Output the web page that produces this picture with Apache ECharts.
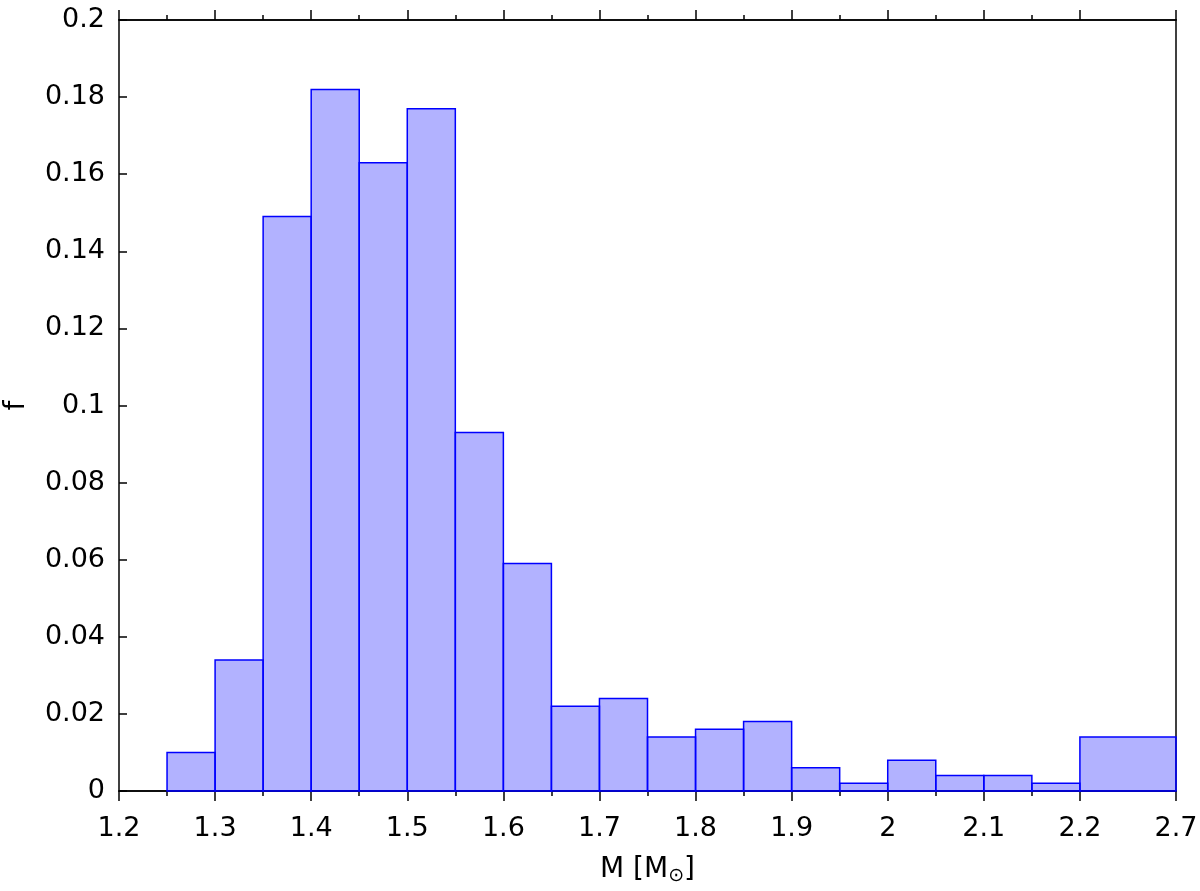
<!DOCTYPE html>
<html>
<head>
<meta charset="utf-8">
<script src="https://cdn.jsdelivr.net/npm/echarts@6/dist/echarts.min.js"></script>
<style>html,body{margin:0;padding:0;background:#fff}#c{width:1200px;height:891px}</style>
</head>
<body>
<div id="c"></div>
<script>
// Histogram bins (M in solar masses) and fractions f
const binLo = [1.25,1.30,1.35,1.40,1.45,1.50,1.55,1.60,1.65,1.70,1.75,1.80,1.85,1.90,1.95,2.00,2.05,2.10,2.15,2.20];
const binHi = [1.30,1.35,1.40,1.45,1.50,1.55,1.60,1.65,1.70,1.75,1.80,1.85,1.90,1.95,2.00,2.05,2.10,2.15,2.20,2.70];
const freq  = [0.010,0.034,0.149,0.182,0.163,0.177,0.093,0.059,0.022,0.024,0.014,0.016,0.018,0.006,0.002,0.008,0.004,0.004,0.002,0.014];
const xMajorTicks = [1.2,1.3,1.4,1.5,1.6,1.7,1.8,1.9,2.0,2.1,2.2,2.7];
const xMinorTicks = [1.25,1.35,1.45,1.55,1.65,1.75,1.85,1.95,2.05,2.15];

// broken axis: range 2.2..2.7 compressed into one 0.1 interval
const BREAK = 2.2, SQUEEZE = 5;
function toAxis(x){ return x <= BREAK + 1e-9 ? x : BREAK + (x - BREAK) / SQUEEZE; }
function fromAxis(a){ return a <= BREAK + 1e-9 ? a : BREAK + (a - BREAK) * SQUEEZE; }
function fmt(v){ const r = Math.round(fromAxis(v)*10)/10; return String(r); }

const FONT = 'DejaVu Sans';
const FS = 27;
const majorAxis = xMajorTicks.map(toAxis);
const minorAxis = xMinorTicks.map(toAxis);
const axMin = toAxis(1.2), axMax = toAxis(2.7);

const chart = echarts.init(document.getElementById('c'), null, {renderer:'canvas'});
const lineStyle = {color:'#000', width:1.5};
function xAx(pos, ticks, len, labels, name){
  return {
    type:'value', position:pos, min:axMin, max:axMax, gridIndex:0,
    axisLine:{show:true, onZero:false, lineStyle},
    axisTick:{show:true, inside:false, length:len, customValues:ticks, lineStyle},
    axisLabel:{show:labels, customValues:ticks, formatter:fmt, color:'#000', fontFamily:FONT, fontSize:FS, margin:24},
    splitLine:{show:false},
    name: name || '', nameLocation:'middle', nameGap:62, nameMoveOverlap:false,
    nameTextStyle:{color:'#000', fontFamily:FONT, fontSize:28, rich:{sub:{fontFamily:FONT, fontSize:19, verticalAlign:'bottom', padding:[14,0,0,0], color:'#000'}}}
  };
}
const option = {
  animation:false,
  backgroundColor:'#fff',
  grid:{left:119, right:24, top:20, bottom:100, containLabel:false, outerBoundsMode:'none'},
  xAxis:[
    xAx('bottom', majorAxis, 10, true, 'M [M{sub|\u2299}]'),
    xAx('bottom', minorAxis, 5, false),
    xAx('top', majorAxis, 10, false),
    xAx('top', minorAxis, 5, false)
  ],
  yAxis:[
    {type:'value', min:0, max:0.2, interval:0.02, position:'left',
     axisLine:{show:true, lineStyle},
     axisTick:{show:true, inside:true, length:8, lineStyle},
     axisLabel:{color:'#000', fontFamily:FONT, fontSize:FS, margin:14},
     splitLine:{show:false},
     name:'f', nameLocation:'middle', nameGap:88, nameRotate:90, nameMoveOverlap:false,
     nameTextStyle:{color:'#000', fontFamily:FONT, fontSize:28}},
    {type:'value', min:0, max:0.2, interval:0.02, position:'right',
     axisLine:{show:true, lineStyle}, axisTick:{show:false}, axisLabel:{show:false}, splitLine:{show:false}}
  ],
  series:[{
    type:'custom',
    xAxisIndex:0, yAxisIndex:0,
    data: binLo.map((lo,i)=>[toAxis(lo), toAxis(binHi[i]), freq[i]]),
    encode:{x:[0,1], y:2},
    renderItem:function(params, api){
      const p0 = api.coord([api.value(0), 0]);
      const p1 = api.coord([api.value(1), api.value(2)]);
      return {type:'rect', shape:{x:p0[0], y:p1[1], width:p1[0]-p0[0], height:p0[1]-p1[1]},
              style:{fill:'rgba(0,0,255,0.3)', stroke:'#0000ff', lineWidth:1.5}};
    }
  }]
};
chart.setOption(option);
</script>
</body>
</html>
